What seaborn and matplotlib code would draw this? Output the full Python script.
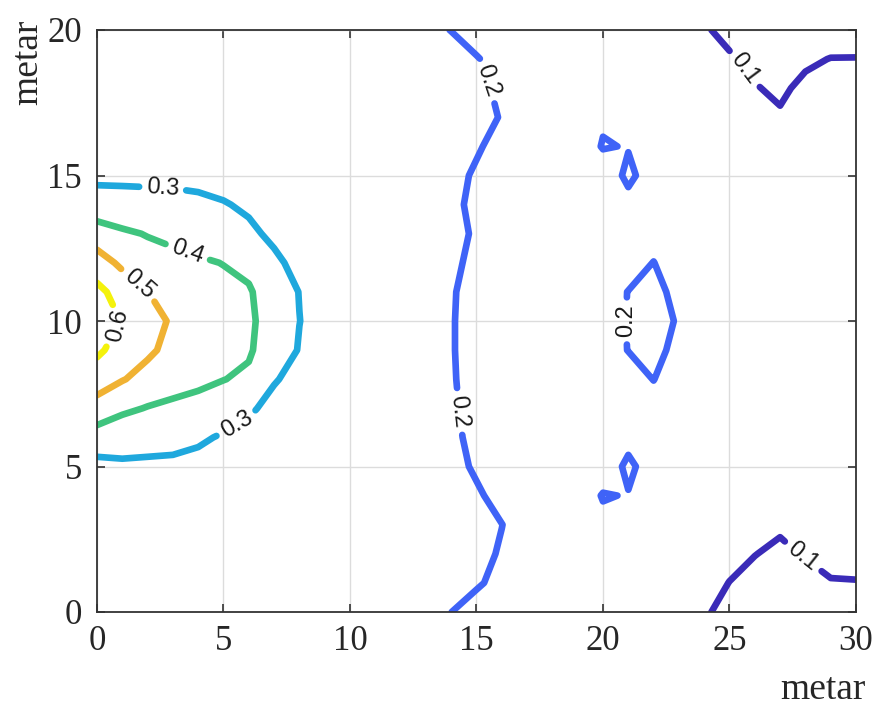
import numpy as np
import matplotlib
matplotlib.use("Agg")
import matplotlib.pyplot as plt
import seaborn as sns

# grid coordinates (metres)
x_m = list(range(0, 31))
y_m = list(range(0, 21))

# contour levels and their colours
levels = [0.1, 0.2, 0.3, 0.4, 0.5, 0.6]
level_colors = ["#3a2bb8", "#3f63f7", "#1fa8dd", "#3fc47e", "#f0b233", "#f4f20c"]

# field values, one list per x column (index = y from 0 to 20)
z_x00 = [0.225, 0.230, 0.235, 0.245, 0.255, 0.270, 0.360, 0.455, 0.555, 0.615, 0.660, 0.625, 0.545, 0.445, 0.340, 0.280, 0.260, 0.245, 0.235, 0.230, 0.225]
z_x01 = [0.225, 0.230, 0.235, 0.245, 0.260, 0.289, 0.330, 0.420, 0.505, 0.565, 0.595, 0.560, 0.480, 0.415, 0.330, 0.283, 0.260, 0.245, 0.235, 0.230, 0.225]
z_x02 = [0.223, 0.228, 0.235, 0.245, 0.260, 0.285, 0.330, 0.395, 0.470, 0.515, 0.530, 0.501, 0.440, 0.395, 0.330, 0.280, 0.260, 0.245, 0.235, 0.228, 0.223]
z_x03 = [0.220, 0.225, 0.230, 0.240, 0.255, 0.280, 0.330, 0.380, 0.440, 0.475, 0.490, 0.470, 0.430, 0.375, 0.325, 0.280, 0.255, 0.240, 0.230, 0.225, 0.220]
z_x04 = [0.218, 0.222, 0.228, 0.237, 0.250, 0.270, 0.315, 0.370, 0.420, 0.450, 0.460, 0.445, 0.410, 0.365, 0.315, 0.280, 0.255, 0.240, 0.230, 0.223, 0.218]
z_x05 = [0.215, 0.220, 0.225, 0.233, 0.245, 0.260, 0.290, 0.350, 0.402, 0.425, 0.435, 0.420, 0.398, 0.345, 0.305, 0.270, 0.250, 0.238, 0.228, 0.220, 0.215]
z_x06 = [0.213, 0.217, 0.222, 0.230, 0.240, 0.255, 0.280, 0.310, 0.385, 0.410, 0.415, 0.410, 0.375, 0.315, 0.288, 0.265, 0.248, 0.235, 0.226, 0.219, 0.214]
z_x07 = [0.210, 0.213, 0.218, 0.225, 0.235, 0.245, 0.260, 0.280, 0.305, 0.350, 0.360, 0.345, 0.315, 0.285, 0.265, 0.250, 0.238, 0.228, 0.220, 0.214, 0.210]
z_x08 = [0.208, 0.211, 0.216, 0.222, 0.230, 0.238, 0.250, 0.265, 0.280, 0.295, 0.301, 0.298, 0.278, 0.262, 0.250, 0.240, 0.232, 0.224, 0.217, 0.212, 0.208]
z_x09 = [0.207, 0.210, 0.215, 0.221, 0.228, 0.235, 0.243, 0.252, 0.260, 0.268, 0.270, 0.268, 0.260, 0.252, 0.243, 0.235, 0.228, 0.221, 0.215, 0.210, 0.207]
z_x10 = [0.206, 0.209, 0.212, 0.217, 0.222, 0.228, 0.234, 0.240, 0.245, 0.249, 0.250, 0.249, 0.245, 0.240, 0.234, 0.228, 0.222, 0.217, 0.212, 0.209, 0.206]
z_x11 = [0.205, 0.208, 0.211, 0.214, 0.218, 0.222, 0.226, 0.230, 0.233, 0.235, 0.235, 0.235, 0.233, 0.230, 0.226, 0.222, 0.218, 0.214, 0.211, 0.208, 0.205]
z_x12 = [0.204, 0.207, 0.210, 0.212, 0.214, 0.216, 0.218, 0.220, 0.221, 0.222, 0.222, 0.222, 0.221, 0.220, 0.218, 0.216, 0.214, 0.212, 0.210, 0.207, 0.204]
z_x13 = [0.203, 0.208, 0.210, 0.211, 0.212, 0.212, 0.212, 0.211, 0.211, 0.210, 0.210, 0.211, 0.211, 0.212, 0.212, 0.212, 0.212, 0.211, 0.210, 0.208, 0.203]
z_x14 = [0.2002, 0.206, 0.207, 0.207, 0.207, 0.207, 0.2045, 0.203, 0.202, 0.2015, 0.2015, 0.202, 0.2045, 0.207, 0.205, 0.207, 0.207, 0.208, 0.207, 0.204, 0.1998]
z_x15 = [0.190, 0.203, 0.206, 0.207, 0.203, 0.197, 0.1945, 0.193, 0.192, 0.1915, 0.1915, 0.192, 0.1945, 0.197, 0.195, 0.197, 0.2025, 0.2085, 0.2056, 0.2015, 0.190]
z_x16 = [0.180, 0.193, 0.198, 0.2003, 0.193, 0.188, 0.186, 0.185, 0.184, 0.183, 0.183, 0.184, 0.185, 0.187, 0.186, 0.188, 0.1925, 0.1985, 0.1956, 0.1915, 0.180]
z_x17 = [0.170, 0.180, 0.186, 0.190, 0.187, 0.184, 0.182, 0.181, 0.180, 0.180, 0.180, 0.180, 0.181, 0.182, 0.183, 0.184, 0.187, 0.190, 0.186, 0.180, 0.170]
z_x18 = [0.160, 0.172, 0.180, 0.185, 0.186, 0.185, 0.183, 0.182, 0.182, 0.183, 0.184, 0.183, 0.182, 0.182, 0.183, 0.185, 0.186, 0.185, 0.180, 0.172, 0.160]
z_x19 = [0.150, 0.165, 0.177, 0.186, 0.190, 0.188, 0.186, 0.185, 0.186, 0.188, 0.189, 0.188, 0.186, 0.185, 0.186, 0.188, 0.190, 0.186, 0.177, 0.165, 0.150]
z_x20 = [0.140, 0.157, 0.178, 0.196, 0.201, 0.191, 0.188, 0.188, 0.189, 0.190, 0.190, 0.190, 0.189, 0.188, 0.188, 0.191, 0.201, 0.198, 0.178, 0.157, 0.140]
z_x21 = [0.130, 0.148, 0.168, 0.185, 0.19925, 0.203, 0.1955, 0.190, 0.190, 0.2005, 0.201, 0.2005, 0.190, 0.190, 0.1955, 0.203, 0.19925, 0.185, 0.168, 0.148, 0.130]
z_x22 = [0.120, 0.138, 0.155, 0.172, 0.190, 0.193, 0.190, 0.190, 0.2005, 0.210, 0.220, 0.210, 0.2005, 0.190, 0.190, 0.193, 0.190, 0.172, 0.155, 0.138, 0.120]
z_x23 = [0.110, 0.124, 0.138, 0.152, 0.165, 0.175, 0.180, 0.183, 0.186, 0.190, 0.195, 0.190, 0.186, 0.183, 0.180, 0.175, 0.165, 0.152, 0.138, 0.124, 0.110]
z_x24 = [0.102, 0.110, 0.118, 0.125, 0.133, 0.140, 0.146, 0.150, 0.153, 0.155, 0.156, 0.155, 0.153, 0.150, 0.146, 0.140, 0.133, 0.125, 0.118, 0.110, 0.102]
z_x25 = [0.095, 0.0995, 0.108, 0.115, 0.122, 0.128, 0.133, 0.137, 0.140, 0.141, 0.142, 0.141, 0.140, 0.137, 0.133, 0.128, 0.122, 0.115, 0.110, 0.102, 0.095]
z_x26 = [0.090, 0.094, 0.1005, 0.108, 0.114, 0.120, 0.125, 0.129, 0.132, 0.133, 0.134, 0.133, 0.132, 0.129, 0.125, 0.120, 0.114, 0.108, 0.101, 0.096, 0.090]
z_x27 = [0.088, 0.091, 0.096, 0.103, 0.109, 0.115, 0.120, 0.124, 0.127, 0.128, 0.129, 0.128, 0.127, 0.124, 0.120, 0.115, 0.109, 0.102, 0.097, 0.093, 0.088]
z_x28 = [0.088, 0.093, 0.1015, 0.106, 0.111, 0.116, 0.120, 0.123, 0.125, 0.126, 0.127, 0.126, 0.125, 0.123, 0.120, 0.116, 0.112, 0.108, 0.104, 0.097, 0.088]
z_x29 = [0.090, 0.099, 0.105, 0.110, 0.114, 0.118, 0.121, 0.123, 0.125, 0.126, 0.126, 0.126, 0.125, 0.123, 0.121, 0.118, 0.114, 0.110, 0.106, 0.1005, 0.090]
z_x30 = [0.092, 0.099, 0.108, 0.113, 0.117, 0.120, 0.123, 0.125, 0.127, 0.128, 0.128, 0.128, 0.127, 0.125, 0.123, 0.120, 0.117, 0.113, 0.108, 0.1005, 0.092]

x_ticks = [0, 5, 10, 15, 20, 25, 30]
y_ticks = [0, 5, 10, 15, 20]
x_label = "metar"
y_label = "metar"

Z = np.column_stack([z_x00, z_x01, z_x02, z_x03, z_x04, z_x05, z_x06, z_x07,
                     z_x08, z_x09, z_x10, z_x11, z_x12, z_x13, z_x14, z_x15,
                     z_x16, z_x17, z_x18, z_x19, z_x20, z_x21, z_x22, z_x23,
                     z_x24, z_x25, z_x26, z_x27, z_x28, z_x29, z_x30])
X, Y = np.meshgrid(x_m, y_m)

sns.set_style("ticks")
plt.rcParams['font.family'] = ['Liberation Serif', 'DejaVu Serif']

fig = plt.figure(figsize=(8.79, 7.06), dpi=100)
ax = fig.add_axes([97 / 879, 94 / 706, 759 / 879, 582 / 706])

palette = sns.color_palette(level_colors)
cs = ax.contour(X, Y, Z, levels=levels, colors=palette, linewidths=4.8)
cs.set_joinstyle('round')
cs.set_capstyle('round')

label_spots = [(2.6, 14.6), (5.5, 6.5), (3.6, 12.4), (1.6, 11.2), (0.45, 10.0),
               (15.6, 18.3), (14.4, 6.9), (21.0, 10.0), (25.5, 18.6), (27.9, 1.9)]
texts = ax.clabel(cs, inline=True, fontsize=17, fmt='%.1f',
                  manual=label_spots, inline_spacing=9)
for t in texts:
    t.set_fontfamily(['Liberation Sans', 'DejaVu Sans'])
    t.set_color('#1a1a1a')

ax.set_xlim(0, 30)
ax.set_ylim(0, 20)
ax.set_xticks(x_ticks)
ax.set_yticks(y_ticks)
ax.grid(True, color='#dcdcdc', linewidth=1.0)
ax.set_axisbelow(True)
ax.tick_params(direction='in', length=6, width=1.2, color='#333333',
               top=True, right=True, labelsize=25, labelcolor='#262626')
ax.tick_params(axis='x', pad=9)
ax.tick_params(axis='y', pad=11)
for s in ax.spines.values():
    s.set_color('#333333')
    s.set_linewidth(1.3)

ax.set_xlabel(x_label, fontsize=27, color='#262626')
ax.set_ylabel(y_label, fontsize=27, color='#262626')
ax.xaxis.set_label_coords(0.957, -0.134)
ax.xaxis.label.set_verticalalignment('center')
ax.yaxis.set_label_coords(-0.091, 0.945)
ax.yaxis.label.set_verticalalignment('center')

fig.savefig("out.png", dpi=100, facecolor='white')
